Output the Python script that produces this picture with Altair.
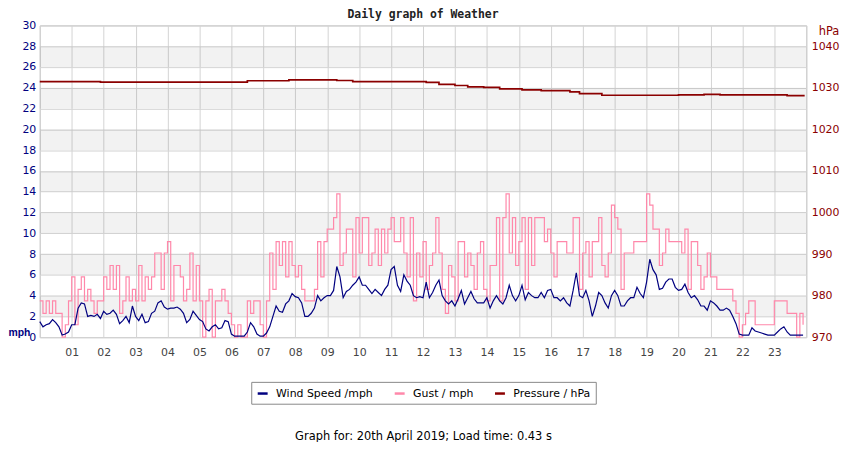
import altair as alt
import pandas as pd

# ---------------- data ----------------
STEP_H = 0.1  # one reading every 6 minutes

wind_mph = [
    1.5, 1.0, 1.2, 1.3, 1.7, 1.4, 1.0, 0.2, 0.3, 0.5,
    1.2, 1.2, 2.8, 3.3, 3.2, 2.0, 2.1, 2.0, 2.2, 1.8,
    2.5, 2.2, 2.3, 2.6, 2.2, 1.3, 1.6, 2.0, 1.4, 3.0,
    2.0, 1.6, 2.2, 1.4, 1.5, 2.3, 2.5, 3.3, 3.5, 2.9,
    2.7, 2.8, 2.8, 2.9, 2.7, 2.3, 1.4, 1.7, 2.5, 2.1,
    1.7, 1.5, 0.8, 0.6, 1.0, 1.2, 0.8, 0.9, 1.6, 1.5,
    0.3, 0.1, 0.1, 0.1, 0.1, 0.5, 1.4, 1.0, 0.3, 0.1,
    0.1, 0.4, 1.0, 2.0, 3.0, 2.5, 2.4, 3.2, 3.5, 4.2,
    3.9, 3.8, 3.3, 2.0, 2.0, 2.3, 2.8, 4.0, 3.5, 3.8,
    4.0, 4.0, 4.5, 6.8, 5.8, 3.8, 4.4, 4.6, 5.0, 5.3,
    5.8, 5.0, 5.0, 4.6, 4.2, 4.6, 4.3, 4.0, 4.6, 5.0,
    6.5, 6.8, 5.0, 4.4, 6.0, 5.4, 5.0, 4.0, 3.8, 3.9,
    3.8, 5.3, 3.8, 4.3, 5.0, 5.5, 4.0, 3.5, 3.2, 3.5,
    3.0, 3.7, 4.5, 3.2, 3.8, 4.4, 3.7, 3.3, 3.3, 3.3,
    3.8, 2.8, 3.5, 4.0, 3.5, 3.2, 3.8, 5.0, 4.0, 3.5,
    4.0, 5.0, 3.6, 4.3, 4.0, 3.8, 3.8, 4.3, 3.8, 4.5,
    4.6, 3.8, 3.8, 3.5, 3.8, 3.3, 3.0, 4.5, 6.2, 4.0,
    3.8, 4.5, 3.5, 2.0, 3.0, 4.3, 4.0, 3.3, 2.8, 4.0,
    4.5, 4.0, 3.0, 3.0, 3.5, 3.8, 3.8, 4.8, 4.2, 3.8,
    5.3, 7.5, 6.5, 6.0, 4.6, 4.7, 5.3, 5.6, 5.6, 4.8,
    4.5, 4.6, 5.1, 4.3, 3.8, 4.0, 3.6, 3.0, 3.0, 2.6,
    3.5, 3.3, 3.0, 2.6, 2.6, 2.8, 2.6, 2.0, 1.3, 0.3,
    0.2, 0.2, 0.2, 0.9, 0.6, 0.5, 0.4, 0.3, 0.2, 0.2,
    0.2, 0.5, 0.8, 1.0, 0.5, 0.2, 0.2, 0.2, 0.2, 0.2,
]

gust_mph = [
    3.5, 2.3, 3.5, 2.3, 3.5, 2.3, 2.3, 0.0, 1.2, 3.5,
    5.8, 1.2, 4.6, 5.8, 3.5, 4.6, 3.5, 2.3, 3.5, 3.5,
    5.8, 4.6, 6.9, 4.6, 6.9, 2.3, 3.5, 5.8, 3.5, 4.6,
    3.5, 6.9, 3.5, 5.8, 4.6, 5.8, 8.1, 8.1, 4.6, 8.1,
    9.2, 3.5, 6.9, 6.9, 5.8, 3.5, 4.6, 8.1, 3.5, 6.9,
    3.5, 0.0, 3.5, 4.6, 0.0, 3.5, 3.5, 4.6, 3.5, 2.3,
    1.2, 0.0, 1.2, 0.0, 0.0, 3.5, 2.3, 3.5, 3.5, 1.2,
    0.0, 3.5, 8.1, 4.6, 9.2, 6.9, 9.2, 5.8, 9.2, 6.9,
    5.8, 6.9, 4.6, 3.5, 3.5, 3.5, 4.6, 9.2, 5.8, 9.2,
    10.4, 10.4, 11.5, 13.8, 6.9, 8.1, 10.4, 10.4, 5.8, 11.5,
    8.1, 11.5, 11.5, 6.9, 8.1, 10.4, 6.9, 10.4, 8.1, 10.4,
    11.5, 9.2, 9.2, 11.5, 8.1, 5.8, 11.5, 3.5, 8.1, 5.8,
    9.2, 4.6, 6.9, 8.1, 11.5, 8.1, 4.6, 2.3, 6.9, 5.8,
    3.5, 9.2, 9.2, 5.8, 8.1, 6.9, 4.6, 8.1, 9.2, 4.6,
    3.5, 6.9, 6.9, 11.5, 3.5, 11.5, 13.8, 8.1, 11.5, 6.9,
    9.2, 11.5, 4.6, 11.5, 6.9, 11.5, 11.5, 11.5, 9.2, 10.4,
    8.1, 5.8, 9.2, 9.2, 9.2, 8.1, 8.1, 11.5, 11.5, 4.6,
    8.1, 9.2, 5.8, 9.2, 9.2, 11.5, 6.9, 5.8, 8.1, 12.7,
    11.5, 10.4, 4.6, 8.1, 8.1, 8.1, 9.2, 9.2, 9.2, 9.2,
    13.8, 12.7, 10.4, 10.4, 6.9, 8.1, 10.4, 9.2, 9.2, 9.2,
    9.2, 8.1, 10.4, 4.6, 9.2, 9.2, 6.9, 4.6, 5.8, 8.1,
    5.8, 5.8, 4.6, 4.6, 4.6, 4.6, 4.6, 3.5, 2.3, 0.0,
    1.2, 2.3, 3.5, 3.5, 1.2, 1.2, 1.2, 1.2, 1.2, 1.2,
    3.5, 3.5, 3.5, 3.5, 2.3, 2.3, 2.3, 0.0, 2.3, 1.2,
]

pressure_hours = [0, 1.9, 6.5, 7.8, 9.3, 9.8, 12.1, 12.5, 13.0, 13.4, 13.9,
                  14.4, 15.1, 15.7, 16.6, 16.9, 17.6, 20.0, 20.8, 21.3, 23.4, 23.95]
pressure_hpa = [1031.5, 1031.35, 1031.7, 1031.9, 1031.75, 1031.5, 1031.3, 1030.8,
                1030.55, 1030.2, 1030.1, 1029.75, 1029.5, 1029.3, 1029.0, 1028.6,
                1028.2, 1028.3, 1028.4, 1028.3, 1028.1, 1028.1]

hour_ticks = list(range(0, 25))
mph_ticks = list(range(0, 31, 2))
hpa_ticks = [970, 980, 990, 1000, 1010, 1020, 1030, 1040]
band_lo = [2, 6, 10, 14, 18, 22, 26]
band_hi = [4, 8, 12, 16, 20, 24, 28]

series_names = ["Wind Speed /mph", "Gust / mph", "Pressure / hPa"]
series_colors = ["#000080", "#ff88aa", "#8b0000"]

title_text = "Daily graph of Weather"
footer_text = "Graph for: 20th April 2019; Load time: 0.43 s"

# ---------------- frames ----------------
wind_df = pd.DataFrame({
    "hour": [round(i * STEP_H, 2) for i in range(len(wind_mph))],
    "value": wind_mph, "series": series_names[0]})
gust_df = pd.DataFrame({
    "hour": [round(i * STEP_H, 2) for i in range(len(gust_mph))],
    "value": gust_mph, "series": series_names[1]})
press_df = pd.DataFrame({"hour": pressure_hours, "value": pressure_hpa,
                         "series": series_names[2]})
band_df = pd.DataFrame({"lo": band_lo, "hi": band_hi})

FONT = "DejaVu Sans"
NAVY = "#000080"
DRED = "#8b0000"
GRID = "#d4d4d4"

color_scale = alt.Scale(domain=series_names, range=series_colors)
legend = alt.Legend(
    title=None, orient="none", legendX=213, legendY=359, direction="horizontal",
    symbolType="stroke", symbolStrokeWidth=2.5, symbolSize=100,
    labelFont=FONT, labelFontSize=11, labelColor="#000", labelOffset=7,
    columnPadding=16, padding=5, strokeColor="#888", fillColor="#fff",
)

x_enc = alt.X(
    "hour:Q",
    scale=alt.Scale(domain=[0, 24], nice=False, zero=False),
    axis=alt.Axis(
        values=hour_ticks, grid=True, gridColor=GRID, ticks=False, domain=False,
        labelExpr="(datum.value < 1 || datum.value > 23) ? '' : (datum.value < 10 ? '0' + datum.value : '' + datum.value)",
        labelFont=FONT, labelFontSize=11, labelColor="#444", labelPadding=9,
        title=footer_text, titleFont=FONT, titleFontSize=11.5, titleFontWeight="normal",
        titleColor="#000", titleY=100, titleBaseline="middle",
    ),
)

y_mph_scale = alt.Scale(domain=[0, 30], nice=False, zero=True)
y_mph_axis = alt.Axis(
    values=mph_ticks, grid=True, gridColor=GRID, ticks=False, domain=False,
    labelFont=FONT, labelFontSize=11, labelColor=NAVY, labelPadding=4,
    title="mph", titleAngle=0, titleAlign="left", titleBaseline="alphabetic",
    titleX=-32, titleY=312, titleFont="Liberation Sans", titleFontSize=10.5,
    titleFontWeight="bold", titleColor=NAVY,
)

bands = alt.Chart(band_df).mark_rect(fill="#000", opacity=0.05).encode(
    y=alt.Y("lo:Q", scale=y_mph_scale, axis=y_mph_axis),
    y2="hi:Q",
)

gust = alt.Chart(gust_df).mark_line(strokeWidth=1.2, interpolate="step-after").encode(
    x=x_enc,
    y=alt.Y("value:Q", scale=y_mph_scale, axis=y_mph_axis),
    color=alt.Color("series:N", scale=color_scale, legend=legend),
)

wind = alt.Chart(wind_df).mark_line(strokeWidth=1.2).encode(
    x=x_enc,
    y=alt.Y("value:Q", scale=y_mph_scale, axis=y_mph_axis),
    color=alt.Color("series:N", scale=color_scale, legend=legend),
)

mph_layer = alt.layer(bands, gust, wind)

pressure = alt.Chart(press_df).mark_line(strokeWidth=1.7, interpolate="step-after").encode(
    x=x_enc,
    y=alt.Y(
        "value:Q",
        scale=alt.Scale(domain=[970, 1045], nice=False, zero=False),
        axis=alt.Axis(
            orient="right", values=hpa_ticks, format="d", grid=False, ticks=False,
            domain=False, labelFont=FONT, labelFontSize=11, labelColor=DRED,
            labelPadding=5,
            title="hPa", titleAngle=0, titleAlign="left", titleBaseline="middle",
            titleX=12, titleY=6, titleFont=FONT, titleFontSize=11.5,
            titleFontWeight="normal", titleColor=DRED,
        ),
    ),
    color=alt.Color("series:N", scale=color_scale, legend=legend),
)

chart = (
    alt.layer(mph_layer, pressure)
    .resolve_scale(y="independent")
    .properties(
        width=772, height=314,
        autosize=alt.AutoSizeParams(type="none"),
        padding={"left": 32, "top": 16, "right": 36, "bottom": 104},
        title=alt.TitleParams(title_text, font="DejaVu Sans Mono", fontSize=11.5,
                              fontWeight="bold", color="#222", anchor="middle", offset=-1),
        background="#ffffff",
    )
    .configure_view(stroke="#bbbbbb", strokeWidth=1)
)

chart.save("out.html", embed_options={"renderer": "svg", "actions": False})
